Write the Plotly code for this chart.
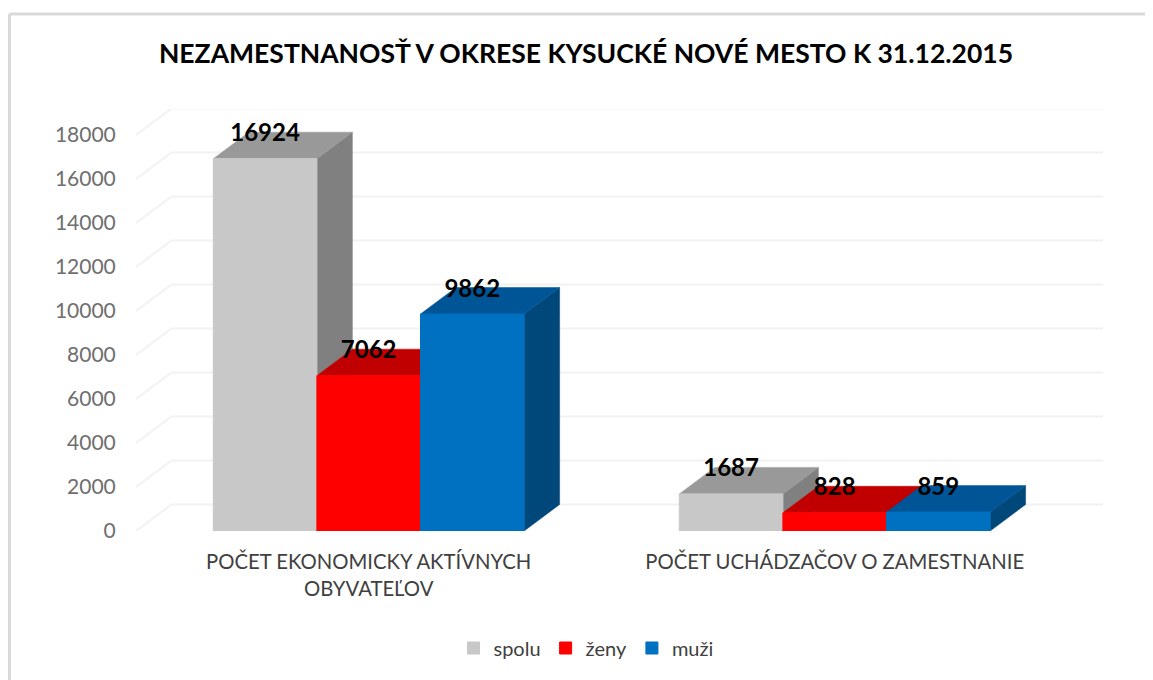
import plotly.graph_objects as go

title = "NEZAMESTNANOSŤ V OKRESE KYSUCKÉ NOVÉ MESTO K 31.12.2015"
categories = ["POČET EKONOMICKY AKTÍVNYCH<br>OBYVATEĽOV", "POČET UCHÁDZAČOV O ZAMESTNANIE"]
category_pos = [0, 1]
series_names = ["spolu", "ženy", "muži"]
spolu = [16924, 1687]
zeny = [7062, 828]
muzi = [9862, 859]
y_ticks = [0, 2000, 4000, 6000, 8000, 10000, 12000, 14000, 16000, 18000]

front_colors = ["#C8C8C8", "#FF0000", "#0070C0"]
top_colors = ["#999999", "#C00000", "#005596"]
side_colors = ["#808080", "#A00000", "#00477A"]
GRID = "#F2F2F2"
TICK = "#6E6E6E"
LABEL = "#404040"
FONT = "Lato"

PAGE = 8               # the page's own margin around the figure
W, H = 1153 - PAGE, 680 - PAGE
L, R, T, B = 136.0 - PAGE, 1103.0 - PAGE, 109.0 - PAGE, 531.0 - PAGE
X0_PX = 368.7 - PAGE   # pixel centre of first group
X_UNIT = 466.0         # pixels per category
Y_UNIT = 0.022         # pixels per value
BAR_W = 103.6 / X_UNIT
DX = 35.5 / X_UNIT     # oblique depth in x units
DY = 26.5 / Y_UNIT     # oblique depth in y units
LABEL_NUDGE = 3 / Y_UNIT

x_range = [(L - X0_PX) / X_UNIT, (R - X0_PX) / X_UNIT]
y_range = [0, (B - T) / Y_UNIT]

values = [spolu, zeny, muzi]
fig = go.Figure()

# back wall grid lines with the oblique floor stub
for t in y_ticks:
    fig.add_trace(go.Scatter(
        x=[x_range[0], x_range[0] + DX, x_range[1]],
        y=[t, t + DY, t + DY],
        mode="lines", line=dict(color=GRID, width=2),
        showlegend=False, hoverinfo="skip", cliponaxis=False))

# depth faces, painted left to right
for g, cx in enumerate(category_pos):
    for s, vals in enumerate(values):
        left = cx + (s - 1.5) * BAR_W
        right = left + BAR_W
        v = vals[g]
        fig.add_trace(go.Scatter(
            x=[right, right + DX, right + DX, right, right],
            y=[0, DY, v + DY, v, 0],
            mode="lines", fill="toself", fillcolor=side_colors[s],
            line=dict(color=side_colors[s], width=0.5),
            showlegend=False, hoverinfo="skip", cliponaxis=False))
        fig.add_trace(go.Scatter(
            x=[left, right, right + DX, left + DX, left],
            y=[v, v, v + DY, v + DY, v],
            mode="lines", fill="toself", fillcolor=top_colors[s],
            line=dict(color=top_colors[s], width=0.5),
            showlegend=False, hoverinfo="skip", cliponaxis=False))

# front faces on an overlaid, identical axis pair
for s, vals in enumerate(values):
    fig.add_trace(go.Bar(
        x=category_pos, y=vals, name=series_names[s], xaxis="x2", yaxis="y2",
        marker=dict(color=front_colors[s], line=dict(width=1, color=front_colors[s])),
        width=BAR_W, offset=(s - 1.5) * BAR_W))

# value labels
for s, vals in enumerate(values):
    fig.add_trace(go.Scatter(
        x=[c + (s - 1) * BAR_W for c in category_pos],
        y=[v + DY - LABEL_NUDGE for v in vals],
        text=[str(v) for v in vals], mode="text", textposition="middle center",
        textfont=dict(family=FONT, size=24, color="#000000", weight="bold"),
        xaxis="x2", yaxis="y2", showlegend=False, hoverinfo="skip", cliponaxis=False))

axis_common = dict(showgrid=False, zeroline=False, showline=False)
fig.update_layout(
    width=W, height=H, autosize=False,
    margin=dict(l=L, r=W - R, t=T, b=H - B, pad=0),
    paper_bgcolor="white", plot_bgcolor="rgba(0,0,0,0)",
    font=dict(family=FONT, color=LABEL),
    title=dict(text=title, x=(586 - PAGE) / W, xanchor="center", y=1 - (54 - PAGE) / H, yanchor="middle",
               font=dict(family=FONT, size=26.5, color="#000000", weight="bold")),
    barmode="overlay",
    xaxis=dict(range=x_range, tickvals=category_pos, ticktext=categories, ticks="outside",
               ticklen=13, tickcolor="rgba(0,0,0,0)",
               tickfont=dict(family=FONT, size=20.3, color=LABEL), **axis_common),
    yaxis=dict(range=y_range, tickvals=y_ticks, tickformat="d", ticks="outside", ticklen=15,
               tickcolor="rgba(0,0,0,0)",
               tickfont=dict(family=FONT, size=21, color=TICK), **axis_common),
    xaxis2=dict(range=x_range, overlaying="x", visible=False),
    yaxis2=dict(range=y_range, overlaying="y", visible=False),
    legend=dict(orientation="h", x=(586 - PAGE - L) / (R - L), xanchor="center",
                y=(B - (648 - PAGE)) / (B - T), yanchor="middle",
                font=dict(family=FONT, size=20, color=LABEL), itemwidth=30,
                bgcolor="rgba(0,0,0,0)"),
    shapes=[
        dict(type="line", xref="paper", yref="paper", layer="below",
             x0=(9.5 - PAGE - L) / (R - L), x1=(9.5 - PAGE - L) / (R - L),
             y0=(B - H) / (B - T), y1=(B - (14 - PAGE)) / (B - T),
             line=dict(color="#D9D9D9", width=3)),
        dict(type="line", xref="paper", yref="paper", layer="below",
             x0=(9.5 - PAGE - L) / (R - L), x1=(W - L) / (R - L),
             y0=(B - (14 - PAGE)) / (B - T), y1=(B - (14 - PAGE)) / (B - T),
             line=dict(color="#D9D9D9", width=3)),
    ],
)
fig.write_html("out.html")
